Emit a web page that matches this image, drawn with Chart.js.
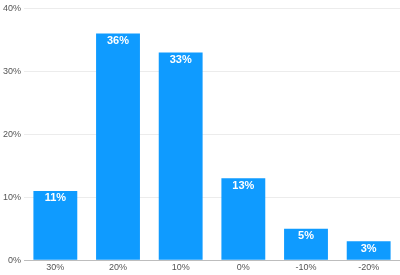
<!DOCTYPE html>
<html>
<head>
<meta charset="utf-8">
<script src="https://cdn.jsdelivr.net/npm/chart.js@4"></script>
<style>
  html, body { margin: 0; padding: 0; background: #fff; }
  #wrap { width: 400px; height: 275px; }
</style>
</head>
<body>
<div id="wrap"><canvas id="myChart"></canvas></div>
<script>
const categories = ['30%', '20%', '10%', '0%', '-10%', '-20%']
const shares = [11, 36, 33, 13, 5, 3]
const yTicks = [0, 10, 20, 30, 40]

const barColor = '#0f9bff'

// white labels drawn inside the top of each bar
const topLabels = {
    id: 'topLabels',
    afterDatasetsDraw(chart) {
        const ctx = chart.ctx
        const meta = chart.getDatasetMeta(0)
        ctx.save()
        ctx.fillStyle = '#ffffff'
        ctx.font = 'bold 11px "Liberation Sans", Arial, sans-serif'
        ctx.textAlign = 'center'
        ctx.textBaseline = 'top'
        meta.data.forEach((bar, i) => {
            ctx.fillText(shares[i] + '%', bar.x, bar.y + 2)
        })
        ctx.restore()
    }
}

const ctx = document.getElementById('myChart');

new Chart(ctx, {
    type: 'bar',
    data: {
        labels: categories,
        datasets: [{
            data: shares,
            backgroundColor: barColor,
            borderWidth: 0,
            categoryPercentage: 0.7,
            barPercentage: 1
        }]
    },
    options: {
        responsive: true,
        maintainAspectRatio: false,
        animation: false,
        layout: { padding: { top: 7, right: 0, left: 0, bottom: 0 } },
        plugins: {
            legend: { display: false },
            tooltip: { enabled: false }
        },
        scales: {
            x: {
                grid: { display: false, drawTicks: false },
                border: { color: '#bdbdbd' },
                ticks: {
                    color: '#555',
                    font: { size: 9, family: '"Liberation Sans", Arial, sans-serif' },
                    padding: 2
                }
            },
            y: {
                min: 0,
                max: 40,
                afterBuildTicks(axis) {
                    axis.ticks = yTicks.map(v => ({ value: v }))
                },
                grid: { color: '#ececec', drawTicks: false },
                border: { display: false },
                ticks: {
                    color: '#555',
                    font: { size: 9, family: '"Liberation Sans", Arial, sans-serif' },
                    padding: 3,
                    callback: v => v + '%'
                }
            }
        }
    },
    plugins: [topLabels]
});
</script>
</body>
</html>
